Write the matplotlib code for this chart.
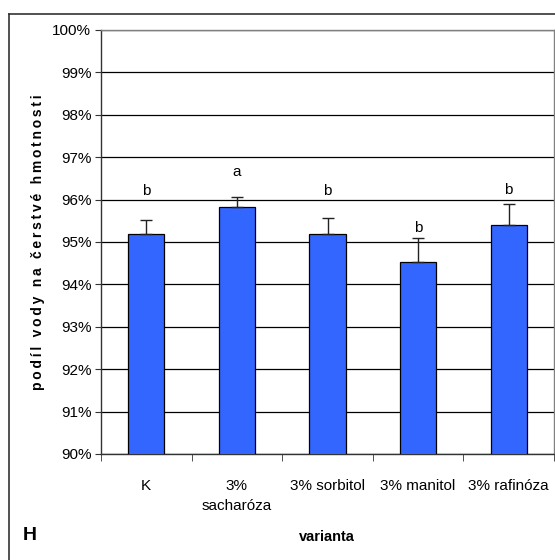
import matplotlib
matplotlib.use("Agg")
import matplotlib.pyplot as plt
import numpy as np

categories = ["K", "3%\nsacharóza", "3% sorbitol", "3% manitol", "3% rafinóza"]
values = [95.19, 95.83, 95.19, 94.53, 95.40]
errors = [0.32, 0.23, 0.38, 0.56, 0.49]
letters = ["b", "a", "b", "b", "b"]
letter_y = [96.20, 96.65, 96.20, 95.33, 96.23]

plt.rcParams['font.family'] = ['Liberation Sans', 'DejaVu Sans']

fig = plt.figure(figsize=(5.55, 5.6), dpi=100)
W, H = 555, 560

# outer chart frame (cut off on the right and bottom like the original)
fig.add_artist(plt.Line2D([9 / W, 9 / W], [0, 1 - 14 / H], transform=fig.transFigure,
                          color='#333333', lw=1.2))
fig.add_artist(plt.Line2D([9 / W, 1], [1 - 14 / H, 1 - 14 / H], transform=fig.transFigure,
                          color='#333333', lw=1.2))

ax = fig.add_axes([101 / W, 1 - 454 / H, 453 / W, 424 / H])

x = np.arange(len(categories))
ax.bar(x, values, width=0.4, bottom=0, color='#3366FF', edgecolor='black',
       linewidth=0.9, zorder=3)
ax.errorbar(x, values, yerr=[np.zeros(len(errors)), errors], fmt='none',
            ecolor='#222222', elinewidth=1, capsize=4, capthick=1, zorder=4)

for xi, lab, ly in zip(x, letters, letter_y):
    ax.text(xi, ly, lab, ha='center', va='center', fontsize=11)

ax.set_ylim(90, 100)
ax.set_xlim(-0.5, 4.5)
ax.set_yticks(np.arange(90, 101, 1))
ax.set_yticklabels([f"{v}%" for v in range(90, 101)], fontsize=11)
ax.yaxis.grid(True, color='black', linewidth=0.9, zorder=0)
ax.set_axisbelow(True)

ax.set_xticks(x)
ax.set_xticklabels(categories, fontsize=11, linespacing=1.5)
ax.set_xticks(np.arange(-0.5, 5, 1), minor=True)
ax.tick_params(axis='x', which='major', length=0, pad=18)
ax.tick_params(axis='x', which='minor', length=5, direction='out', color='#333333')
ax.tick_params(axis='y', length=4, direction='out', color='#333333', pad=3)

for s in ax.spines.values():
    s.set_color('#808080')
    s.set_linewidth(1)
ax.spines['bottom'].set_color('#333333')
ax.spines['left'].set_color('#333333')

ylab = "\u2009".join("podíl vody na čerstvé hmotnosti")
fig.text(38 / W, 1 - 242 / H, ylab, rotation=90, ha='center', va='center',
         fontsize=10, fontweight='bold')
fig.text(327 / W, 1 - 537 / H, "varianta", ha='center', va='center',
         fontsize=10.5, fontweight='bold')
fig.text(30 / W, 1 - 535 / H, "H", ha='center', va='center',
         fontsize=14, fontweight='bold')

fig.savefig("out.png", dpi=100)
